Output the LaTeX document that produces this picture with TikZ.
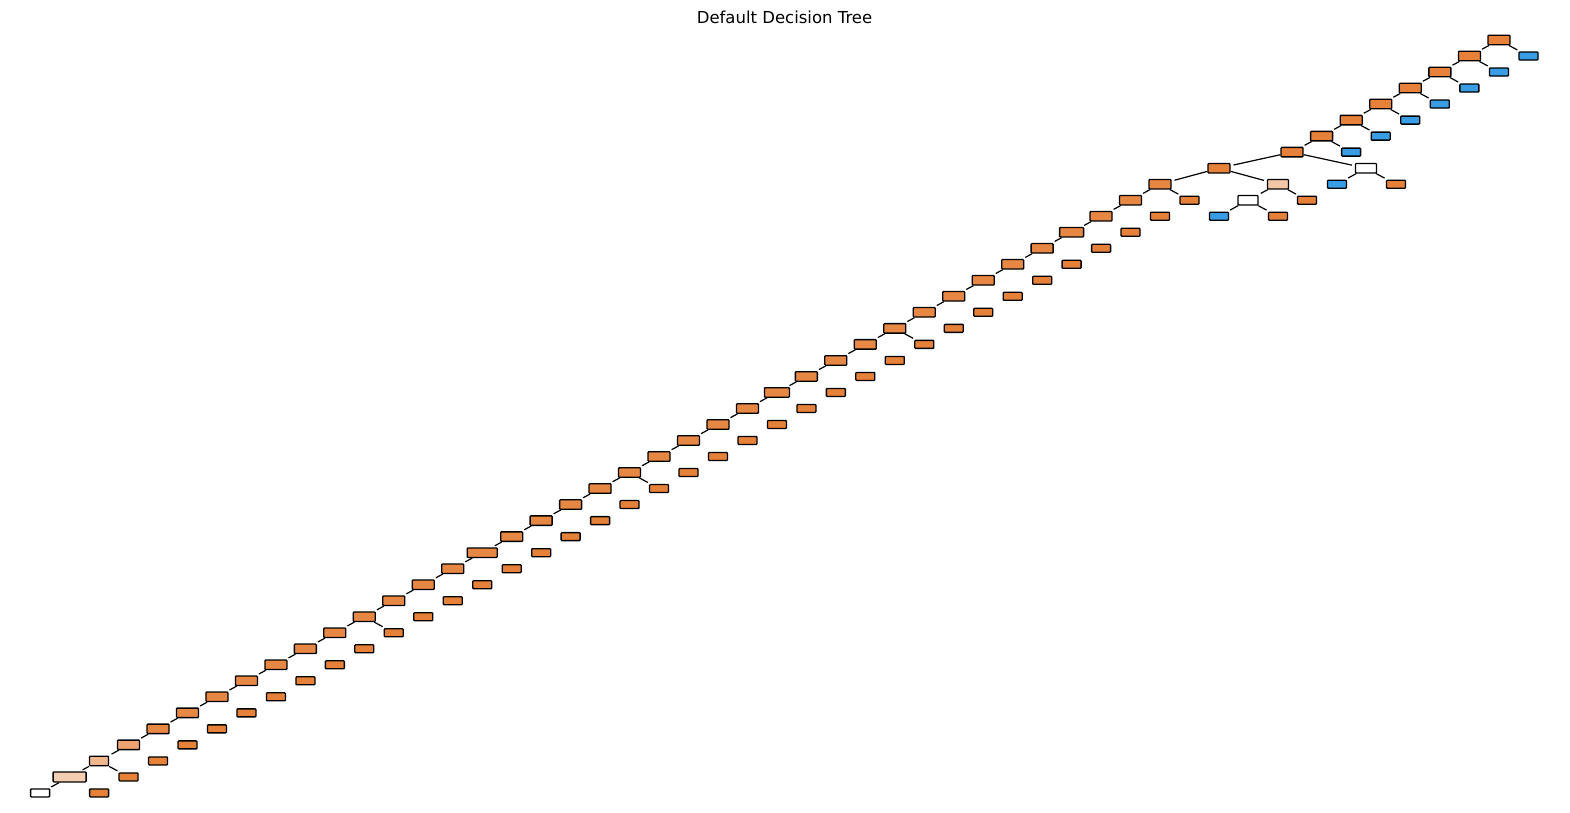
\documentclass[tikz,border=0pt]{standalone}
\usepackage{fontspec}
\setmainfont{DejaVu Sans}
\usetikzlibrary{positioning}
\definecolor{cls0}{RGB}{229,129,57}
\definecolor{cls1}{RGB}{57,157,229}
\tikzset{
    split/.style = {rectangle, draw, line width=1.3pt, rounded corners=0.8pt, inner sep=0pt,
                        minimum width=22pt, minimum height=9.5pt, fill=cls0!95!white},
    leaf/.style = {rectangle, draw, line width=1.3pt, rounded corners=0.8pt, inner sep=0pt,
                        minimum width=19pt, minimum height=8pt, fill=cls0},
    branch/.style = {line width=1.2pt, shorten >=3pt}
}
\begin{document}
\begin{tikzpicture}[x=1pt,y=-1pt]
			\useasboundingbox (0,0) rectangle (1570,812);
			\node (title) at (784.5,17.5) {\fontsize{16.5}{20}\selectfont Default Decision Tree};
			% upper chain, blue leaves on the right
			\foreach \k in {0,...,7}{
				\pgfmathsetmacro{\xx}{1499-29.57*\k}
				\pgfmathsetmacro{\yy}{40+16.02*\k}
				\node (s\k) [split, fill=cls0] at (\xx,\yy) {};
			}
			\foreach \k in {1,...,7}{
				\pgfmathsetmacro{\xx}{1499-29.57*(\k-1)+29.5}
				\pgfmathsetmacro{\yy}{40+16.02*\k}
				\node (r\k) [leaf, fill=cls1] at (\xx,\yy) {};
			}
			\node (s8) [split, fill=cls0] at (1219,168.2) {};
			\node (r8) [split, fill=white, minimum width=21pt] at (1366,168.2) {};
			\node (r9) [split, fill=cls0!45!white, minimum width=21pt] at (1278,184.2) {};
			\node (b9) [leaf, fill=cls1] at (1337,184.2) {};
			\node (o9) [leaf] at (1396,184.2) {};
			\node (w10) [split, fill=white, minimum width=20pt] at (1248,200.2) {};
			\node (o10) [leaf] at (1307,200.2) {};
			\node (b11) [leaf, fill=cls1] at (1219,216.2) {};
			\node (o11) [leaf] at (1278,216.2) {};
			% lower chain, orange leaves on the right
			\foreach \k in {9,...,43}{
				\pgfmathsetmacro{\xx}{1160-29.47*(\k-9)}
				\pgfmathsetmacro{\yy}{40+16.02*\k}
				\pgfmathsetmacro{\ww}{22+(\k==32)*8+(\k==22)*3+(\k==12)*2}
				\node (s\k) [split, minimum width=\ww pt] at (\xx,\yy) {};
			}
			\node (s44) [split, fill=cls0!72!white] at (1160-29.47*35,40+16.02*44) {};
			\node (s45) [split, fill=cls0!58!white, minimum width=19pt] at (1160-29.47*36,40+16.02*45) {};
			\node (s46) [split, fill=cls0!40!white, minimum width=33pt, minimum height=10pt] at (1160-29.47*37,40+16.02*46) {};
			\node (s47) [leaf, fill=white] at (1160-29.47*37-29.5,40+16.02*47) {};
			\foreach \k in {10,...,47}{
				\pgfmathsetmacro{\xx}{1160-29.47*(\k-10)+29.5}
				\pgfmathsetmacro{\yy}{40+16.02*\k}
				\node (r\k) [leaf] at (\xx,\yy) {};
			}
			% branches
			\foreach \k [evaluate=\k as \p using int(\k-1)] in {1,...,47}
				\draw [branch] (s\p) -- (s\k);
			\foreach \k [evaluate=\k as \p using int(\k-1)] in {1,...,9,10,...,47}
				\draw [branch] (s\p) -- (r\k);
			\draw [branch] (r8) -- (b9);
			\draw [branch] (r8) -- (o9);
			\draw [branch] (r9) -- (w10);
			\draw [branch] (r9) -- (o10);
			\draw [branch] (w10) -- (b11);
			\draw [branch] (w10) -- (o11);
		\end{tikzpicture}
\end{document}
